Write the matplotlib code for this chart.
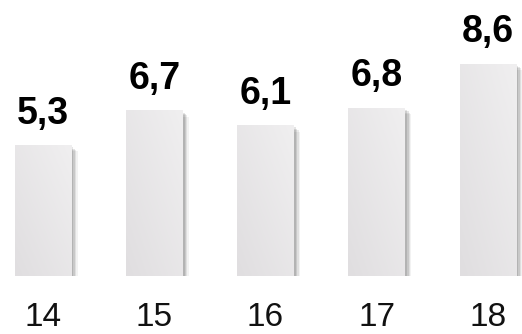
import matplotlib
matplotlib.use("Agg")
import matplotlib.pyplot as plt
import matplotlib.patheffects as pe
import numpy as np
from matplotlib.colors import LinearSegmentedColormap

categories = ["14", "15", "16", "17", "18"]
values = [5.3, 6.7, 6.1, 6.8, 8.6]
value_labels = ["5,3", "6,7", "6,1", "6,8", "8,6"]

fig = plt.figure(figsize=(5.22, 3.34), dpi=100)
ax = fig.add_axes([0, 58/334, 1, 276/334])
for s in ax.spines.values():
    s.set_visible(False)
ax.set_yticks([])

x = np.arange(len(categories))
shadow = [pe.SimplePatchShadow(offset=(o, -o), shadow_rgbFace="#000000", alpha=a)
          for o, a in [(4.5, 0.05), (3.5, 0.08), (2.5, 0.1), (1.5, 0.1)]]
bars = ax.bar(x, values, width=0.51, color="#e8e6e8", edgecolor="none",
              path_effects=shadow + [pe.Normal()], zorder=2)

# gradient fill
gx, gy = np.meshgrid(np.linspace(0, 1, 50), np.linspace(0, 1, 50))
grad = 0.5 * gx + 0.5 * (1 - gy)
cmap = LinearSegmentedColormap.from_list("g", ["#e0dee0", "#f0eff0"])
for b in bars:
    x0, y0 = b.get_x(), b.get_y()
    w, h = b.get_width(), b.get_height()
    im = ax.imshow(grad, extent=(x0, x0 + w, y0, y0 + h), origin="upper",
                   cmap=cmap, aspect="auto", zorder=3)
    im.set_clip_path(b)

ax.set_xlim(-0.3865, 4.3056)
ax.set_ylim(0, 11.17)

for xi, v, lab in zip(x, values, value_labels):
    ax.annotate(lab, (xi, v), xytext=(0, 15.5), textcoords="offset points",
                ha="center", va="baseline", fontsize=27, fontweight="bold",
                family="Liberation Sans", color="#000000", zorder=5)

ax.set_xticks(x)
ax.set_xticklabels(categories, fontsize=24, family="Liberation Sans", color="#111111")
ax.tick_params(axis="x", length=0, pad=19)

fig.savefig("out.png", dpi=100, facecolor="white")
